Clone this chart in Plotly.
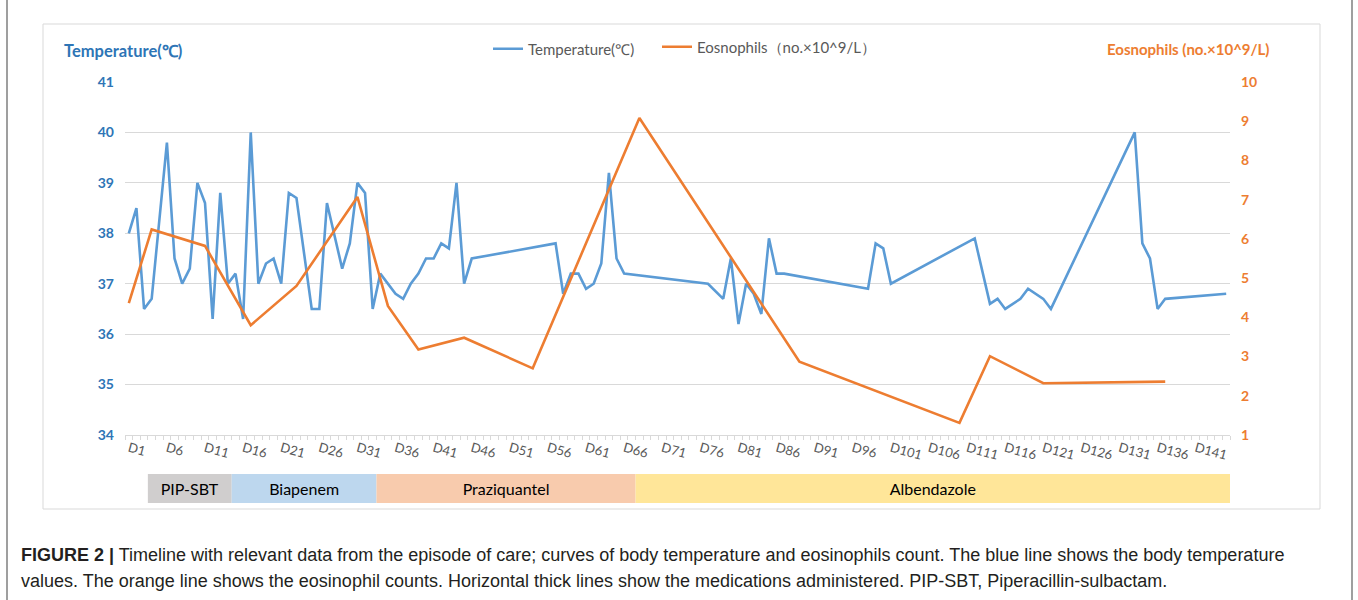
import plotly.graph_objects as go

# ---------------- data ----------------
temp_days = [1, 2, 3, 4, 6, 7, 8, 9, 10, 11, 12, 13, 14, 15, 16, 17, 18, 19, 20, 21,
             22, 23, 25, 26, 27, 29, 30, 31, 32, 33, 34, 36, 37, 38, 39, 40, 41, 42, 43, 44,
             45, 46, 57, 58, 59, 60, 61, 62, 63, 64, 65, 66, 77, 79, 80, 81, 82, 83, 84, 85,
             86, 87, 98, 99, 100, 101, 112, 114, 115, 116, 118, 119, 121, 122, 133, 134, 135, 136, 137, 145]
temp_vals = [38.0, 38.5, 36.5, 36.7, 39.8, 37.5, 37.0, 37.3, 39.0, 38.6, 36.3, 38.8, 37.0, 37.2, 36.3, 40.0, 37.0, 37.4, 37.5, 37.0,
             38.8, 38.7, 36.5, 36.5, 38.6, 37.3, 37.8, 39.0, 38.8, 36.5, 37.2, 36.8, 36.7, 37.0, 37.2, 37.5, 37.5, 37.8, 37.7, 39.0,
             37.0, 37.5, 37.8, 36.8, 37.2, 37.2, 36.9, 37.0, 37.4, 39.2, 37.5, 37.2, 37.0, 36.7, 37.5, 36.2, 37.0, 36.8, 36.4, 37.9,
             37.2, 37.2, 36.9, 37.8, 37.7, 37.0, 37.9, 36.6, 36.7, 36.5, 36.7, 36.9, 36.7, 36.5, 40.0, 37.8, 37.5, 36.5, 36.7, 36.8]

eos_days = [1, 4, 11, 17, 23, 31, 35, 39, 45, 54, 68, 89, 110, 114, 121, 137]
eos_vals = [4.36, 6.24, 5.82, 3.80, 4.80, 7.07, 4.29, 3.18, 3.48, 2.70, 9.08, 2.87, 1.31, 3.01, 2.32, 2.36]

tick_days = list(range(1, 142, 5))
tick_labels = ["D%d" % d for d in tick_days]

med_names = ["PIP-SBT", "Biapenem", "Praziquantel", "Albendazole"]
med_start = [4, 15, 34, 68]
med_end = [14, 33, 67, 145]
med_colors = ["#D0CECE", "#BDD7EE", "#F8CBAD", "#FFE699"]

# ---------------- layout geometry ----------------
W, H = 1358, 600
ML, MR, MT, MB = 125, 128, 82, 90
PW, PH = W - ML - MR, H - MT - MB


def px_x(px):
    return (px - ML) / PW


def px_y(py):
    return (H - MB - py) / PH


BLUE = "#5B9BD5"
ORANGE = "#ED7D31"
BLUE_TXT = "#2E75B6"
GRID = "#D9D9D9"
FONT = "Lato"

fig = go.Figure()
fig.add_trace(go.Scatter(x=temp_days, y=temp_vals, mode="lines", name="Temperature(℃)",
                         line=dict(color=BLUE, width=2.6), legend="legend"))
fig.add_trace(go.Scatter(x=eos_days, y=eos_vals, mode="lines", name="Eosnophils（no.×10^9/L）",
                         line=dict(color=ORANGE, width=2.6), yaxis="y2", legend="legend2"))
fig.add_trace(go.Bar(
    y=[0] * len(med_names),
    x=[e - s + 1 for s, e in zip(med_start, med_end)],
    base=[s - 0.5 for s in med_start],
    orientation="h", width=1, yaxis="y3",
    marker=dict(color=med_colors, line=dict(width=0)),
    text=med_names, textposition="inside", insidetextanchor="middle", textangle=0,
    textfont=dict(family=FONT, size=16, color="#000000"),
    showlegend=False, hoverinfo="skip"))

legend_common = dict(orientation="h", xanchor="left", yanchor="middle",
                     font=dict(family=FONT, size=15, color="#595959"),
                     bgcolor="rgba(0,0,0,0)")

fig.update_layout(
    width=W, height=H,
    margin=dict(l=ML, r=MR, t=MT, b=MB),
    paper_bgcolor="white", plot_bgcolor="white",
    font=dict(family=FONT, color="#595959"),
    showlegend=True,
    legend=dict(x=px_x(488), y=px_y(49), **legend_common),
    legend2=dict(x=px_x(657), y=px_y(47), **legend_common),
    xaxis=dict(range=[0.5, 145.5], tickmode="array", tickvals=tick_days, ticktext=tick_labels,
               tickangle=15, ticks="", showline=True, linecolor=GRID, linewidth=1,
               showgrid=False, zeroline=False,
               tickfont=dict(family=FONT, size=13, color="#595959"),
               minor=dict(tickmode="linear", tick0=0.5, dtick=1, ticks="outside",
                          ticklen=4, tickcolor=GRID, showgrid=False)),
    yaxis=dict(domain=[px_y(435), 1], range=[34, 41], dtick=1, showgrid=True, gridcolor=GRID,
               gridwidth=1, zeroline=False, showline=False, ticks="", ticklabelstandoff=10,
               tickfont=dict(family=FONT, size=14, color=BLUE_TXT, weight="bold")),
    yaxis2=dict(overlaying="y", side="right", range=[1, 10], dtick=1, showgrid=False,
                zeroline=False, showline=False, ticks="", ticklabelstandoff=10,
                tickfont=dict(family=FONT, size=14, color=ORANGE, weight="bold")),
    yaxis3=dict(domain=[px_y(503), px_y(474)], range=[-0.5, 0.5], visible=False,
                anchor="x", fixedrange=True),
)

annotations = [
    dict(text="<b>Temperature(℃)</b>", x=px_x(62), y=px_y(51), xanchor="left", yanchor="middle",
         font=dict(family=FONT, size=16.5, color=BLUE_TXT)),
    dict(text="<b>Eosnophils (no.×10^9/L)</b>", x=px_x(1105), y=px_y(49), xanchor="left",
         yanchor="middle", font=dict(family=FONT, size=15, color=ORANGE)),
    dict(text="<b>FIGURE 2 |</b> Timeline with relevant data from the episode of care; curves of body "
              "temperature and eosinophils count. The blue line shows the body temperature",
         x=px_x(19), y=px_y(555), xanchor="left", yanchor="middle",
         font=dict(family="Liberation Sans", size=18, color="#231F20")),
    dict(text="values. The orange line shows the eosinophil counts. Horizontal thick lines show the "
              "medications administered. PIP-SBT, Piperacillin-sulbactam.",
         x=px_x(19), y=px_y(581), xanchor="left", yanchor="middle",
         font=dict(family="Liberation Sans", size=18, color="#231F20")),
]
for a in annotations:
    a.update(xref="paper", yref="paper", showarrow=False)
fig.update_layout(annotations=annotations)

fig.add_shape(type="rect", xref="paper", yref="paper",
              x0=px_x(43), x1=px_x(1320), y0=px_y(509), y1=px_y(24),
              line=dict(color=GRID, width=1), fillcolor="rgba(0,0,0,0)", layer="below")
for xp in (7, 1352):
    fig.add_shape(type="line", xref="paper", yref="paper",
                  x0=px_x(xp), x1=px_x(xp), y0=px_y(600), y1=px_y(0),
                  line=dict(color="#7F7F7F", width=1.5))

fig.write_html("out.html", config={"displayModeBar": False},
               post_script="document.body.style.margin='0px';document.body.style.overflow='hidden';")
